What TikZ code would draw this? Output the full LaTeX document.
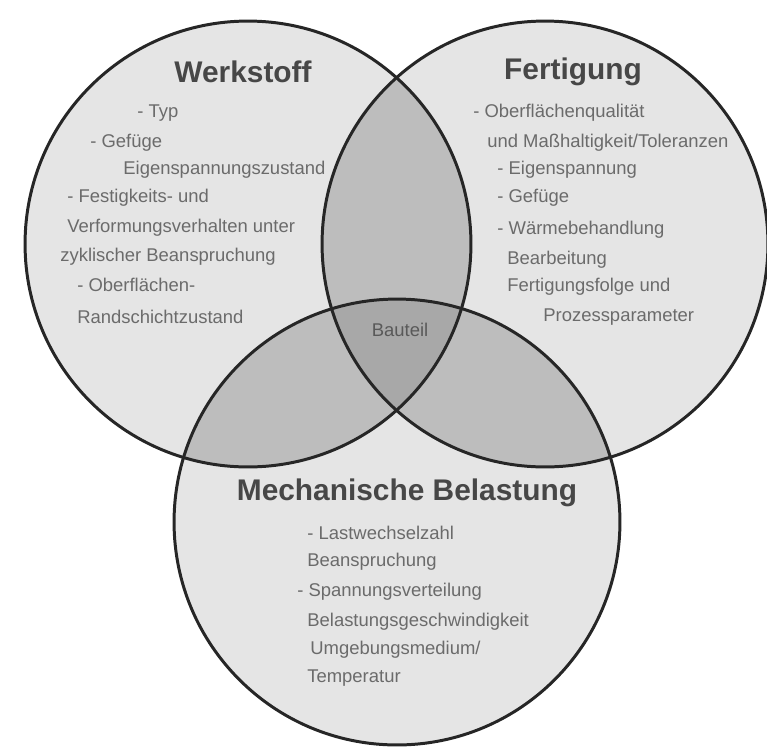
\documentclass[tikz,border=0pt]{standalone}
\usepackage{fontspec}
\setmainfont{Liberation Sans}
\definecolor{ringfill}{gray}{0.90}
\definecolor{pairfill}{gray}{0.74}
\definecolor{corefill}{gray}{0.66}

\begin{document}
\begin{tikzpicture}[x=0.02cm, y=-0.02cm,
    ring/.style={draw=black!85, line width=1.7pt},
    title/.style={font=\fontsize{17}{20}\selectfont\bfseries, text=black!72, inner sep=0pt},
    item/.style={font=\fontsize{10.5}{12}\selectfont, text=black!58, anchor=west, inner sep=0pt}
]
\useasboundingbox (0,0) rectangle (767,748);
\coordinate (werk) at (248,244);
\coordinate (fert) at (545,244);
\coordinate (last) at (397,522);

% circles
\fill[ringfill] (werk) circle[radius=4.46cm];
\fill[ringfill] (fert) circle[radius=4.46cm];
\fill[ringfill] (last) circle[radius=4.46cm];
% overlaps
\begin{scope}
  \clip (werk) circle[radius=4.46cm];
  \fill[pairfill] (fert) circle[radius=4.46cm];
  \fill[pairfill] (last) circle[radius=4.46cm];
  \clip (fert) circle[radius=4.46cm];
  \fill[corefill] (last) circle[radius=4.46cm];
\end{scope}
\begin{scope}
  \clip (fert) circle[radius=4.46cm];
  \fill[pairfill] (last) circle[radius=4.46cm];
  \clip (werk) circle[radius=4.46cm];
  \fill[corefill] (last) circle[radius=4.46cm];
\end{scope}
\draw[ring] (werk) circle[radius=4.46cm];
\draw[ring] (fert) circle[radius=4.46cm];
\draw[ring] (last) circle[radius=4.46cm];

% Werkstoff
\node[title] (werk-t) at (243,72) {Werkstoff};
\node[item] (werk-1) at (137,113) {- Typ};
\node[item] (werk-2) at (90,143) {- Gefüge};
\node[item] (werk-3) at (123,170) {Eigenspannungszustand};
\node[item] (werk-4) at (67,198) {- Festigkeits- und};
\node[item] (werk-5) at (67,228) {Verformungsverhalten unter};
\node[item] (werk-6) at (60,257) {zyklischer Beanspruchung};
\node[item] (werk-7) at (77,285) {- Oberflächen-};
\node[item] (werk-8) at (77,317) {Randschichtzustand};

% Fertigung
\node[title] (fert-t) at (573,72) {Fertigung};
\node[item] (fert-1) at (473,113) {- Oberflächenqualität};
\node[item] (fert-2) at (487,143) {und Maßhaltigkeit/Toleranzen};
\node[item] (fert-3) at (497,170) {- Eigenspannung};
\node[item] (fert-4) at (497,198) {- Gefüge};
\node[item] (fert-5) at (497,230) {- Wärmebehandlung};
\node[item] (fert-6) at (507,260) {Bearbeitung};
\node[item] (fert-7) at (507,287) {Fertigungsfolge und};
\node[item] (fert-8) at (543,317) {Prozessparameter};

% Bauteil
\node[font=\fontsize{10.5}{12}\selectfont, text=black!65] (core) at (400,330) {Bauteil};

% Mechanische Belastung
\node[title] (last-t) at (407,493) {Mechanische Belastung};
\node[item] (last-1) at (307,533) {- Lastwechselzahl};
\node[item] (last-2) at (307,562) {Beanspruchung};
\node[item] (last-3) at (297,592) {- Spannungsverteilung};
\node[item] (last-4) at (307,622) {Belastungsgeschwindigkeit};
\node[item] (last-5) at (310,650) {Umgebungsmedium/};
\node[item] (last-6) at (307,678) {Temperatur};
\end{tikzpicture}
\end{document}
